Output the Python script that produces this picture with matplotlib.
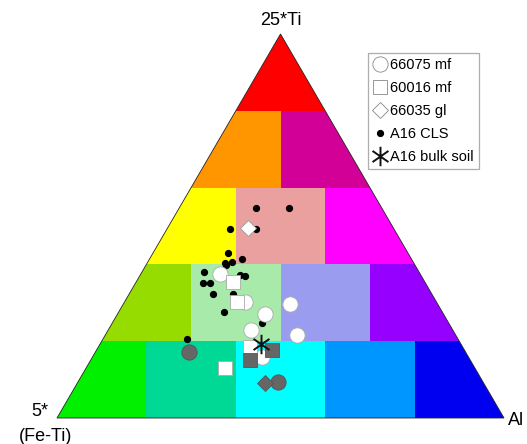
import numpy as np
import matplotlib
matplotlib.use("Agg")
import matplotlib.pyplot as plt
from matplotlib.patches import Polygon, Rectangle
from matplotlib.path import Path
from matplotlib.lines import Line2D

plt.rcParams['font.family'] = ['Liberation Sans', 'DejaVu Sans']

H = np.sqrt(3) / 2

# ---- colour field (rows from bottom: Ti fraction bands) ----
row_edges = [0.0, 0.2, 0.4, 0.6, 0.8, 1.0]
row_col_edges = [
    [0.0, 0.2, 0.4, 0.6, 0.8, 1.0],
    [0.0, 0.3, 0.5, 0.7, 1.0],
    [0.0, 0.4, 0.6, 1.0],
    [0.0, 0.5, 1.0],
    [0.0, 1.0],
]
row_colors = [
    ['#00f000', '#00d996', '#00ffff', '#0096ff', '#0000f0'],
    ['#96dc00', '#a8eaaa', '#9a9cf0', '#9600ff'],
    ['#ffff00', '#eba0a0', '#ff00ff'],
    ['#ff9600', '#d20096'],
    ['#ff0000'],
]

# ---- data: ternary fractions (ti = top apex 25*Ti, al = right apex Al) ----
cls_ti = [0.546, 0.546, 0.492, 0.492, 0.429, 0.413, 0.403, 0.405, 0.398, 0.381,
          0.372, 0.369, 0.351, 0.351, 0.322, 0.322, 0.275, 0.247, 0.205]
cls_al = [0.172, 0.246, 0.140, 0.199, 0.169, 0.207, 0.175, 0.189, 0.179, 0.139,
          0.223, 0.236, 0.152, 0.167, 0.187, 0.233, 0.236, 0.334, 0.188]

c66075_ti = [0.375, 0.303, 0.297, 0.270, 0.229, 0.216, 0.160]
c66075_al = [0.177, 0.269, 0.373, 0.331, 0.320, 0.430, 0.378]

s60016_ti = [0.354, 0.302, 0.184, 0.129]
s60016_al = [0.217, 0.251, 0.340, 0.312]

d66035_ti = [0.494]
d66035_al = [0.181]

g_circ_ti = [0.173, 0.095]
g_circ_al = [0.209, 0.448]
g_sq_ti = [0.150, 0.177]
g_sq_al = [0.356, 0.393]
g_dia_ti = [0.092]
g_dia_al = [0.420]

bulk_ti = [0.193]
bulk_al = [0.359]

labels = ['66075 mf', '60016 mf', '66035 gl', 'A16 CLS', 'A16 bulk soil']


def tern(ti, al):
    ti = np.asarray(ti, float)
    al = np.asarray(al, float)
    return al + ti / 2, ti * H


fig = plt.figure(figsize=(5.27, 4.44), dpi=100)
ax = fig.add_axes([0, 0, 1, 1])
ax.set_xlim(-57 / 447, 470 / 447)
ax.set_ylim(-26 / 443.4, 418 / 443.4)
ax.axis('off')

tri = Polygon([[0, 0], [1, 0], [0.5, H]], closed=True, facecolor='none',
              edgecolor='#222222', lw=0.6, zorder=2)
ax.add_patch(tri)

for i in range(5):
    y0, y1 = row_edges[i] * H, row_edges[i + 1] * H
    edges = row_col_edges[i]
    for j, c in enumerate(row_colors[i]):
        r = Rectangle((edges[j], y0), edges[j + 1] - edges[j], y1 - y0,
                      facecolor=c, edgecolor='none', zorder=1)
        ax.add_patch(r)
        r.set_clip_path(tri)

# custom asterisk marker (vertical + X)
ang = np.deg2rad([90, 35, 145])
verts, codes = [], []
for a in ang:
    verts += [(np.cos(a), np.sin(a)), (-np.cos(a), -np.sin(a))]
    codes += [Path.MOVETO, Path.LINETO]
ast = Path(verts, codes)

x, y = tern(cls_ti, cls_al)
ax.plot(x, y, 'o', ms=4.2, color='black', zorder=3)
x, y = tern(c66075_ti, c66075_al)
ax.plot(x, y, 'o', ms=11, mfc='white', mec='#aaaaaa', mew=0.6, zorder=4)
x, y = tern(s60016_ti, s60016_al)
ax.plot(x, y, 's', ms=10.5, mfc='white', mec='#aaaaaa', mew=0.6, zorder=5)
x, y = tern(d66035_ti, d66035_al)
ax.plot(x, y, 'D', ms=8, mfc='white', mec='#999999', mew=0.6, zorder=5)
x, y = tern(g_circ_ti, g_circ_al)
ax.plot(x, y, 'o', ms=11, mfc='#666666', mec='#555555', mew=0.6, zorder=6)
x, y = tern(g_dia_ti, g_dia_al)
ax.plot(x, y, 'D', ms=8, mfc='#666666', mec='#555555', mew=0.6, zorder=6)
x, y = tern(g_sq_ti, g_sq_al)
ax.plot(x, y, 's', ms=10.5, mfc='#666666', mec='#555555', mew=0.6, zorder=6)
x, y = tern(bulk_ti, bulk_al)
ax.plot(x, y, marker=ast, ms=14, color='#111111', mew=1.4, ls='none', zorder=7)

# apex labels
ax.annotate('25*Ti', xy=(0.5, H), xytext=(0, 9.5), textcoords='offset points',
            ha='center', va='center', fontsize=13)
ax.annotate('5*', xy=(0, 0), xytext=(-12.5, 4.5), textcoords='offset points',
            ha='center', va='center', fontsize=13)
ax.annotate('(Fe-Ti)', xy=(0, 0), xytext=(-8.5, -13), textcoords='offset points',
            ha='center', va='center', fontsize=13)
ax.annotate('Al', xy=(1, 0), xytext=(3, -1.5), textcoords='offset points',
            ha='left', va='center', fontsize=13)

handles = [
    Line2D([], [], ls='none', marker='o', ms=11, mfc='white', mec='#888888', mew=0.6),
    Line2D([], [], ls='none', marker='s', ms=10.5, mfc='white', mec='#888888', mew=0.6),
    Line2D([], [], ls='none', marker='D', ms=8, mfc='white', mec='#888888', mew=0.6),
    Line2D([], [], ls='none', marker='o', ms=4.2, color='black'),
    Line2D([], [], ls='none', marker=ast, ms=14, color='#111111', mew=1.4),
]
leg = ax.legend(handles, labels, loc='upper left',
                bbox_to_anchor=(368 / 527, 1 - 53 / 444), bbox_transform=fig.transFigure,
                borderaxespad=0, fontsize=10.5, frameon=True, fancybox=False,
                handlelength=0.9, handletextpad=0.25, labelspacing=0.62,
                borderpad=0.35, edgecolor='#999999')
leg.get_frame().set_linewidth(0.9)

fig.savefig('out.png', dpi=100)
